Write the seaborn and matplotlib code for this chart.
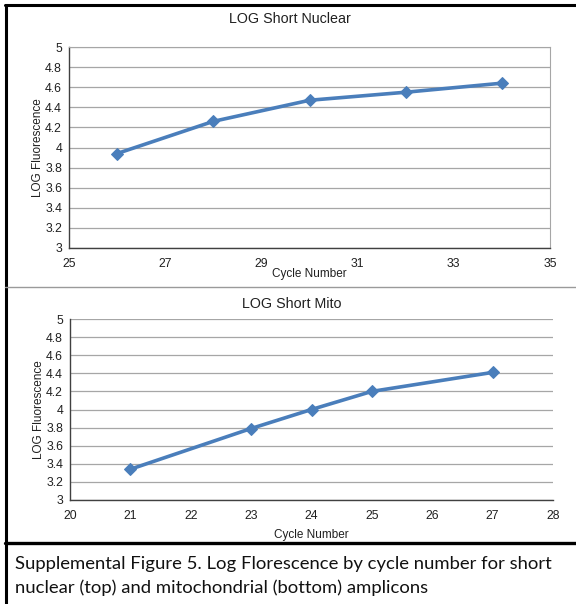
import matplotlib
matplotlib.use("Agg")
import matplotlib.pyplot as plt
import seaborn as sns
import pandas as pd
from matplotlib.lines import Line2D

# Data
nuc_cycles = [26, 28, 30, 32, 34]
nuc_logf = [3.94, 4.26, 4.47, 4.55, 4.64]
mito_cycles = [21, 23, 24, 25, 27]
mito_logf = [3.34, 3.79, 4.00, 4.20, 4.41]
nuc_xticks = [25, 27, 29, 31, 33, 35]
mito_xticks = [20, 21, 22, 23, 24, 25, 26, 27, 28]
yticks = [3, 3.2, 3.4, 3.6, 3.8, 4, 4.2, 4.4, 4.6, 4.8, 5]
ytick_labels = ["3", "3.2", "3.4", "3.6", "3.8", "4", "4.2", "4.4", "4.6", "4.8", "5"]

sns.set_style("white")
plt.rcParams['font.family'] = ['Liberation Sans', 'DejaVu Sans']

W, H = 576, 604
fig = plt.figure(figsize=(W / 100, H / 100), dpi=100)

def fx(px):
    return px / W

def fy(py):
    return 1 - py / H

line_color = "#4a7ebb"
grid_color = "#a6a6a6"

def setup(ax, x, y, xticks, xlim, title, right_spine, title_x, title_pad, xlabel_pad):
    df = pd.DataFrame({"x": x, "y": y})
    sns.lineplot(data=df, x="x", y="y", ax=ax, color=line_color, linewidth=2.6,
                 marker="D", markersize=6.5, markeredgecolor=line_color)
    ax.set_xlim(*xlim)
    ax.set_ylim(3, 5)
    ax.set_xticks(xticks)
    ax.set_xticklabels([str(t) for t in xticks])
    ax.set_yticks(yticks)
    ax.set_yticklabels(ytick_labels)
    ax.tick_params(axis="both", labelsize=8.8, length=3, width=0.8, color="#404040",
                   labelcolor="#202020", direction="out", pad=2)
    ax.tick_params(axis="x", pad=4)
    ax.yaxis.grid(True, color=grid_color, linewidth=0.9)
    ax.set_axisbelow(True)
    for s in ["left", "bottom"]:
        ax.spines[s].set_color("#404040")
        ax.spines[s].set_linewidth(1.0)
    ax.spines["top"].set_visible(right_spine)
    ax.spines["right"].set_visible(right_spine)
    ax.spines["top"].set_color(grid_color)
    ax.spines["right"].set_color(grid_color)
    ax.set_xlabel("Cycle Number", fontsize=8.5, labelpad=xlabel_pad, color="#202020")
    ax.set_ylabel("LOG Fluorescence", fontsize=8.5, labelpad=1, color="#202020")
    ax.set_title(title, fontsize=10.3, pad=title_pad, color="#202020", x=title_x)

ax1 = fig.add_axes([fx(69), fy(248), fx(550 - 69), (248 - 47) / H])
setup(ax1, nuc_cycles, nuc_logf, nuc_xticks, (25, 35), "LOG Short Nuclear", True,
      0.46, 17, -1.5)

ax2 = fig.add_axes([fx(70), fy(500), fx(553 - 70), (500 - 319) / H])
setup(ax2, mito_cycles, mito_logf, mito_xticks, (20, 28), "LOG Short Mito", False,
      0.46, 8, 5)

# Frames
fig.add_artist(Line2D([fx(5), fx(576)], [fy(5), fy(5)], color="black", linewidth=2.2))
fig.add_artist(Line2D([fx(5.5), fx(5.5)], [fy(5), fy(604)], color="black", linewidth=2.2))
fig.add_artist(Line2D([fx(5), fx(576)], [fy(287), fy(287)], color="#9a9a9a", linewidth=1.0))
fig.add_artist(Line2D([fx(5), fx(576)], [fy(543), fy(543)], color="black", linewidth=2.4))

cap_font = ["Lato", "DejaVu Sans"]
fig.text(fx(15), fy(564), "Supplemental Figure 5. Log Florescence by cycle number for short",
         fontsize=13.3, family=cap_font, va="center", ha="left", color="#111111")
fig.text(fx(15), fy(588), "nuclear (top) and mitochondrial (bottom) amplicons",
         fontsize=13.3, family=cap_font, va="center", ha="left", color="#111111")

fig.savefig("out.png", dpi=100)
